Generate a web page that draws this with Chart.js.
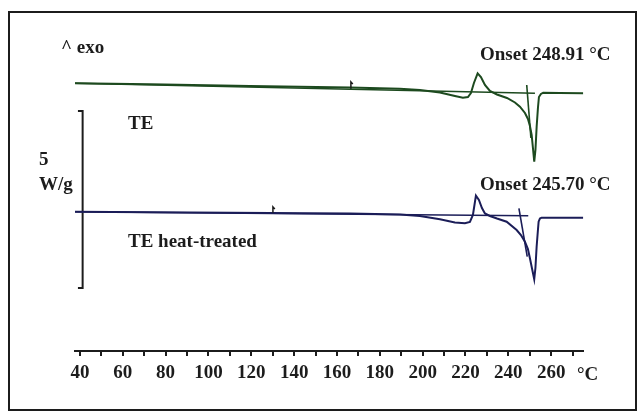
<!DOCTYPE html>
<html>
<head>
<meta charset="utf-8">
<script src="https://cdn.jsdelivr.net/npm/chart.js@4/dist/chart.umd.min.js"></script>
<style>
  html, body { margin: 0; padding: 0; background: #fff; }
  #wrap { width: 644px; height: 416px; }
</style>
</head>
<body>
<div id="wrap"><canvas id="dsc"></canvas></div>
<script>
/* ── DATA (temperature °C, heat flow W/g, arbitrary offset) ── */
const teTemp = [37.67, 72.68, 119.36, 166.05, 189.39, 198.73, 208.07, 215.07, 218.80, 221.14,
  222.54, 223.94, 225.67, 227.21, 229.08, 231.40, 234.69, 239.36, 243.09, 245.42,
  247.76, 249.16, 250.09, 250.89, 251.49, 252.10, 252.66, 253.22, 253.82, 254.29,
  255.22, 256.30, 264.09, 274.97];
const teHeat = [7.562, 7.534, 7.486, 7.443, 7.407, 7.373, 7.302, 7.203, 7.155, 7.175,
  7.288, 7.571, 7.845, 7.740, 7.514, 7.345, 7.246, 7.147, 7.020, 6.901,
  6.723, 6.554, 6.356, 6.102, 5.734, 5.347, 5.678, 6.336, 6.864, 7.175,
  7.260, 7.297, 7.288, 7.280];

const htTemp = [37.67, 72.68, 128.70, 166.05, 189.39, 198.73, 208.07, 215.07, 219.74, 222.07,
  223.47, 224.87, 226.27, 227.68, 229.08, 231.40, 234.69, 239.21, 243.88, 245.88,
  247.75, 249.15, 250.08, 251.01, 252.09, 252.65, 253.21, 253.82, 254.14, 254.75,
  255.54, 264.09, 274.97];
const htHeat = [3.935, 3.918, 3.898, 3.881, 3.856, 3.814, 3.720, 3.630, 3.607, 3.644,
  3.842, 4.387, 4.266, 4.040, 3.884, 3.814, 3.743, 3.653, 3.418, 3.277,
  3.088, 2.881, 2.619, 2.345, 2.025, 2.345, 2.946, 3.418, 3.653, 3.743,
  3.766, 3.766, 3.766];

// onset construction lines: baseline + inflection tangent
const teBaseTemp = [37.67, 252.43];
const teBaseHeat = [7.562, 7.280];
const teTanTemp = [248.59, 250.55];
const teTanHeat = [7.514, 6.017];
const htBaseTemp = [37.67, 249.29];
const htBaseHeat = [3.935, 3.822];
const htTanTemp = [244.95, 248.83];
const htTanHeat = [4.031, 2.664];

// integration limit flags
const teFlagTemp = [166.5, 166.5, 167.4];
const teFlagHeat = [7.40, 7.60, 7.54];
const htFlagTemp = [130.1, 130.1, 131.0];
const htFlagHeat = [3.88, 4.07, 4.01];

// 5 W/g scale bar
const barTemp = [39.07, 41.26, 41.26, 39.07];
const barHeat = [6.78, 6.78, 1.78, 1.78];

const onsetLabels = ['Onset 248.91 °C', 'Onset 245.70 °C'];
const seriesLabels = ['TE', 'TE heat-treated'];

const COLORS = {
  te: '#1d4a1f',
  ht: '#1b1d58',
  ink: '#1c1c1c',
};
const FONT = 'bold 19px "Liberation Serif", "DejaVu Serif", serif';

const pts = (xs, ys) => xs.map((x, i) => ({ x, y: ys[i] }));
const line = (xs, ys, color, width) => ({
  data: pts(xs, ys), borderColor: color, borderWidth: width || 2,
  pointRadius: 0, tension: 0, fill: false,
});

/* ── FRAME + TEXT ── */
const annotate = {
  id: 'annotate',
  afterDraw(chart) {
    const c = chart.ctx;
    c.save();
    c.strokeStyle = COLORS.ink;
    c.lineWidth = 2;
    c.strokeRect(9, 12, 627, 398);
    c.fillStyle = COLORS.ink;
    c.font = FONT;
    c.textBaseline = 'alphabetic';
    c.fillText('^ exo', 61, 53);
    c.fillText(onsetLabels[0], 480, 60);
    c.fillText(onsetLabels[1], 480, 190);
    c.fillText(seriesLabels[0], 128, 129);
    c.fillText(seriesLabels[1], 128, 247);
    c.fillText('5', 39, 165);
    c.fillText('W/g', 39, 190);
    c.fillText('°C', 577, 380);
    c.restore();
  }
};

new Chart(document.getElementById('dsc'), {
  type: 'line',
  data: {
    datasets: [
      line(teBaseTemp, teBaseHeat, COLORS.te, 1.6),
      line(teTanTemp, teTanHeat, COLORS.te, 1.6),
      line(teFlagTemp, teFlagHeat, COLORS.ink, 1.5),
      line(teTemp, teHeat, COLORS.te, 2),
      line(htBaseTemp, htBaseHeat, COLORS.ht, 1.6),
      line(htTanTemp, htTanHeat, COLORS.ht, 1.6),
      line(htFlagTemp, htFlagHeat, COLORS.ink, 1.5),
      line(htTemp, htHeat, COLORS.ht, 2),
      line(barTemp, barHeat, COLORS.ink, 2),
    ],
  },
  options: {
    responsive: true, maintainAspectRatio: false, animation: false,
    layout: { padding: { left: 75, right: 60.7, top: 12, bottom: 25 } },
    plugins: { legend: { display: false }, tooltip: { enabled: false } },
    scales: {
      x: {
        type: 'linear', min: 37.7, max: 275,
        afterFit: s => { s.height = 40; },
        border: { display: true, color: COLORS.ink, width: 2 },
        grid: { drawOnChartArea: false, drawTicks: true, tickLength: 5, color: COLORS.ink, lineWidth: 2 },
        ticks: {
          stepSize: 10, includeBounds: false, autoSkip: false, maxRotation: 0, padding: 6,
          color: COLORS.ink,
          font: { family: '"Liberation Serif"', size: 19, weight: 'bold' },
          callback: v => (v % 20 === 0 && v <= 260) ? v : '',
        },
      },
      y: { type: 'linear', display: false, min: 0, max: 9.576 },
    },
  },
  plugins: [annotate],
});
</script>
</body>
</html>
